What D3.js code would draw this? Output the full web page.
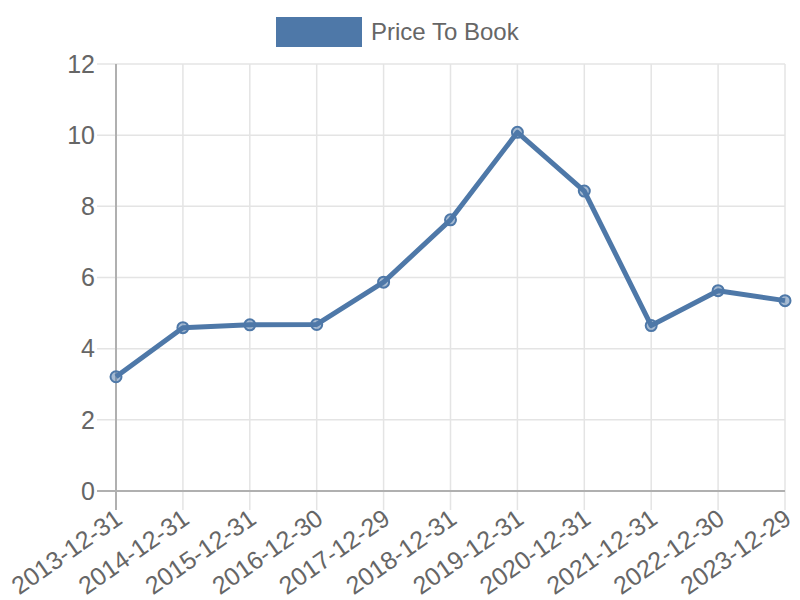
<!DOCTYPE html>
<html>
<head>
<meta charset="utf-8">
<script src="https://cdn.jsdelivr.net/npm/d3@7"></script>
<style>
  body { margin: 0; background: #fff; }
  text { font-family: "Liberation Sans", Arial, sans-serif; fill: #666; }
</style>
</head>
<body>
<svg id="chart"></svg>
<script>
const dates = ['2013-12-31', '2014-12-31', '2015-12-31', '2016-12-30', '2017-12-29',
  '2018-12-31', '2019-12-31', '2020-12-31', '2021-12-31', '2022-12-30', '2023-12-29'];
const priceToBook = [3.21, 4.59, 4.67, 4.68, 5.87, 7.62, 10.08, 8.43, 4.65, 5.63, 5.35];
const yTicks = [0, 2, 4, 6, 8, 10, 12];
const seriesName = 'Price To Book';

const width = 800;
const height = 600;
const margin = { top: 64, right: 15, bottom: 109, left: 116 };
const lineColor = '#4e78a8';

const svg = d3.select('#chart')
  .attr('width', width)
  .attr('height', height);

const x = d3.scalePoint()
  .domain(dates)
  .range([margin.left, width - margin.right]);

const y = d3.scaleLinear()
  .domain([0, 12])
  .range([height - margin.bottom, margin.top]);

const tickLen = 19;

// grid lines (extend past the axes as ticks)
svg.append('g')
  .selectAll('line')
  .data(dates)
  .enter()
  .append('line')
  .attr('x1', d => x(d))
  .attr('x2', d => x(d))
  .attr('y1', margin.top)
  .attr('y2', y(0) + tickLen)
  .attr('stroke', d => d === dates[0] ? '#b0b0b0' : '#e4e4e4')
  .attr('stroke-width', d => d === dates[0] ? 2 : 1.5);

svg.append('g')
  .selectAll('line')
  .data(yTicks)
  .enter()
  .append('line')
  .attr('x1', margin.left - tickLen)
  .attr('x2', width - margin.right)
  .attr('y1', d => y(d))
  .attr('y2', d => y(d))
  .attr('stroke', d => d === 0 ? '#b0b0b0' : '#e4e4e4')
  .attr('stroke-width', d => d === 0 ? 2 : 1.5);

// redraw the y axis line over the grid
svg.append('line')
  .attr('x1', margin.left).attr('x2', margin.left)
  .attr('y1', margin.top).attr('y2', y(0) + tickLen)
  .attr('stroke', '#b0b0b0')
  .attr('stroke-width', 2);

// y labels
svg.append('g')
  .selectAll('text')
  .data(yTicks)
  .enter()
  .append('text')
  .text(d => d)
  .attr('x', margin.left - tickLen - 2)
  .attr('y', d => y(d))
  .attr('dy', '0.35em')
  .attr('text-anchor', 'end')
  .style('font-size', '25px');

// x labels, rotated
svg.append('g')
  .selectAll('text')
  .data(dates)
  .enter()
  .append('text')
  .text(d => d)
  .attr('transform', d => `translate(${x(d) + 3}, ${y(0) + tickLen + 5}) rotate(-35)`)
  .attr('text-anchor', 'end')
  .attr('dy', '0.35em')
  .style('font-size', '25px');

// line
const line = d3.line()
  .x((d, i) => x(dates[i]))
  .y(d => y(d));

svg.append('path')
  .datum(priceToBook)
  .attr('d', line)
  .attr('fill', 'none')
  .attr('stroke', lineColor)
  .attr('stroke-width', 5)
  .attr('stroke-linejoin', 'round');

svg.append('g')
  .selectAll('circle')
  .data(priceToBook)
  .enter()
  .append('circle')
  .attr('cx', (d, i) => x(dates[i]))
  .attr('cy', d => y(d))
  .attr('r', 5.5)
  .attr('fill', 'rgba(78,120,168,0.5)')
  .attr('stroke', lineColor)
  .attr('stroke-width', 2);

// legend
const legend = svg.append('g');
legend.append('rect')
  .attr('x', 276)
  .attr('y', 17)
  .attr('width', 86)
  .attr('height', 30)
  .attr('fill', lineColor);
legend.append('text')
  .text(seriesName)
  .attr('x', 371)
  .attr('y', 32)
  .attr('dy', '0.35em')
  .style('font-size', '24px');
</script>
</body>
</html>
